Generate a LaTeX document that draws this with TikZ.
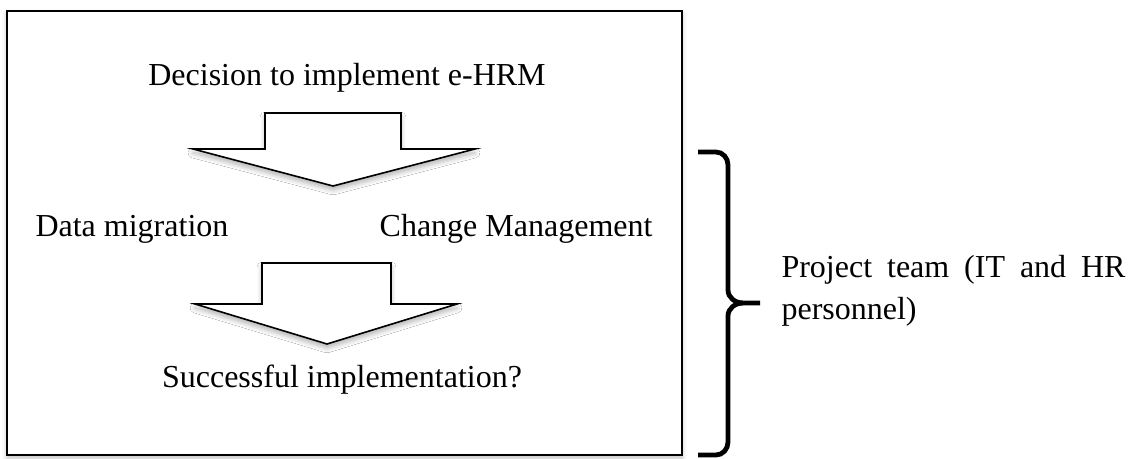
\documentclass[tikz,border=0pt]{standalone}
\usepackage{fontspec}
\setmainfont{Liberation Serif}
\usepackage{tikz}
\usepackage{xcolor}
\usetikzlibrary{shadows.blur}
\tikzset{
    frame-box/.style = {draw=black, line width=0.8pt, fill=white, blur shadow={shadow blur steps=6, shadow xshift=0pt, shadow yshift=-1.2pt, shadow opacity=25}},
    block-arrow/.style = {draw=black, line width=0.6pt, fill=white, line join=miter, blur shadow={shadow blur steps=6, shadow xshift=0pt, shadow yshift=-1.5pt, shadow opacity=30}},
    brace-line/.style = {draw=black, line width=1.8pt},
    step-text/.style = {inner sep=0pt, font=\fontsize{12}{16}\selectfont},
}

\begin{document}
\begin{tikzpicture}[x=0.375pt, y=-0.375pt]
\useasboundingbox (0,0) rectangle (1132,459);
% outer frame
\draw[frame-box] (7,11) rectangle (682,455);
% texts
\node[step-text, anchor=base] (decision) at (347,86) {Decision to implement e-HRM};
\node[step-text, anchor=base west] (migration) at (35,236) {Data migration};
\node[step-text, anchor=base east] (change) at (653,236) {Change Management};
\node[step-text, anchor=base] (success) at (342,387) {Successful implementation?};
% arrows
\draw[block-arrow] (265,149) -- (265,113) -- (401,113) -- (401,149) -- (475,149) -- (333,186) -- (193,149) -- cycle;
\draw[block-arrow] (262,304) -- (262,263) -- (391,263) -- (391,304) -- (457,304) -- (327,344) -- (195,304) -- cycle;
% brace
\coordinate (brace-top) at (698,152);
\coordinate (brace-tip) at (760,303);
\coordinate (brace-bottom) at (698,455);
\draw[brace-line] (brace-top) -- (716,152) to[out=0, in=90] (728,165) -- (728,290) to[out=-90, in=180] (743,303) -- (brace-tip);
\draw[brace-line] (743,303) to[out=180, in=90] (728,316) -- (728,442) to[out=-90, in=0] (716,455) -- (brace-bottom);
\node[step-text, anchor=base west, text width=129pt, align=justify] (team) at (781,277) {Project team (IT and HR personnel)};
\end{tikzpicture}
\end{document}
